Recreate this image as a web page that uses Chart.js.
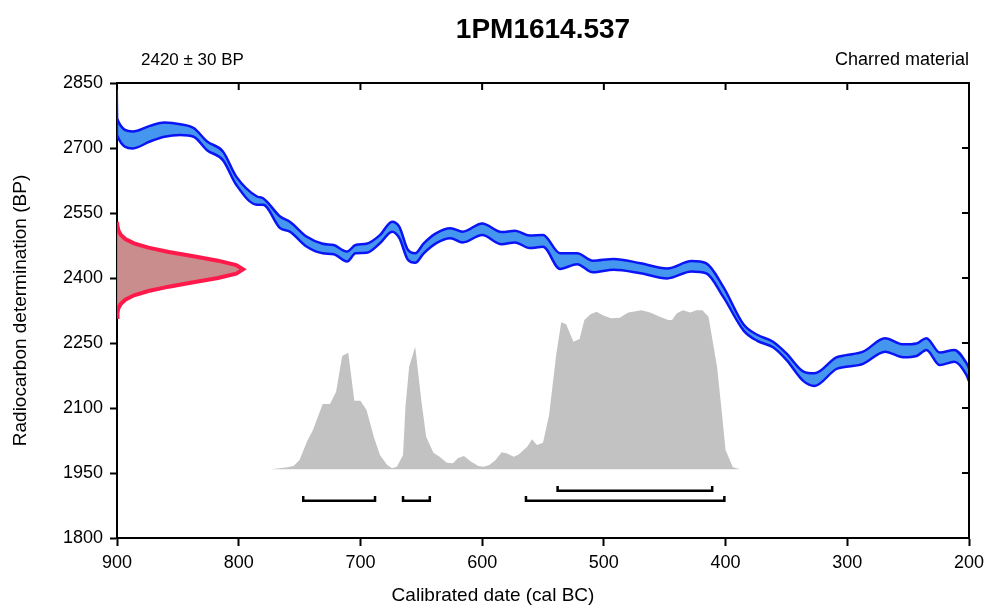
<!DOCTYPE html>
<html>
<head>
<meta charset="utf-8">
<script src="https://cdn.jsdelivr.net/npm/chart.js@4.4.1/dist/chart.umd.min.js"></script>
<style>
  html, body { margin: 0; padding: 0; background: #fff; }
</style>
</head>
<body>
<canvas id="calChart" width="986" height="608"></canvas>
<script>
Chart.defaults.font.family = "'Liberation Sans', Arial, sans-serif";
Chart.defaults.color = '#000';

const chartTitle = '1PM1614.537';
const sampleAge = '2420 ± 30 BP';
const sampleMaterial = 'Charred material';
const xAxisTitle = 'Calibrated date (cal BC)';

// calibration curve (cal BC) with upper / lower edge of the band (BP)
const curveYears = [900.3, 900, 887, 873, 861, 848, 837, 826, 813, 802, 785, 780, 766, 758, 744, 731, 722, 711, 704, 695,
    684, 674, 668, 661, 655, 648, 638, 626, 616, 600, 584, 573, 561, 550, 536, 522, 509, 492, 470, 448,
    428, 416, 402, 385, 374, 361, 350, 336, 327, 309, 301, 287, 269, 254, 243, 235, 224, 212, 202, 200];
const curveUpper = [2880, 2768, 2738, 2751, 2759, 2755, 2746, 2715, 2692, 2634, 2588, 2584, 2542, 2530, 2495, 2479, 2476, 2461, 2476, 2479,
    2499, 2530, 2518, 2465, 2457, 2480, 2503, 2515, 2507, 2526, 2506, 2509, 2498, 2499, 2457, 2457, 2440, 2444, 2434, 2422,
    2439, 2434, 2380, 2292, 2269, 2253, 2226, 2184, 2180, 2217, 2222, 2230, 2261, 2247, 2249, 2261, 2228, 2234, 2203, 2192];
const curveLower = [2860, 2730, 2699, 2715, 2726, 2730, 2726, 2695, 2672, 2615, 2569, 2569, 2515, 2507, 2472, 2457, 2455, 2438, 2457, 2458,
    2480, 2507, 2492, 2442, 2435, 2457, 2480, 2492, 2482, 2499, 2478, 2482, 2469, 2472, 2421, 2432, 2413, 2419, 2411, 2399,
    2415, 2411, 2357, 2278, 2255, 2240, 2211, 2162, 2151, 2190, 2195, 2202, 2230, 2217, 2220, 2234, 2199, 2207, 2176, 2162];

// radiocarbon measurement distribution (BP) with relative density
const measuredBP = [2310, 2320, 2330, 2340, 2350, 2360, 2370, 2380, 2390, 2400, 2410, 2420,
    2430, 2440, 2450, 2460, 2470, 2480, 2490, 2500, 2510, 2520, 2530];
const measuredDensity = [0.001, 0.004, 0.011, 0.029, 0.066, 0.135, 0.249, 0.411, 0.607, 0.801, 0.946, 1,
    0.946, 0.801, 0.607, 0.411, 0.249, 0.135, 0.066, 0.029, 0.011, 0.004, 0.001];

// calibrated probability (cal BC) with relative probability
const calYears = [774, 761, 755, 750, 744, 739, 731, 725, 720, 715, 710, 705, 700, 695, 689, 684, 678, 674, 670, 665,
    663, 660, 655, 650, 646, 640, 635, 629, 624, 620, 615, 609, 603, 599, 594, 589, 584, 580, 574, 570,
    563, 559, 555, 550, 545, 539, 535, 531, 525, 520, 516, 511, 506, 500, 494, 487, 480, 476, 469, 462,
    454, 447, 444, 440, 435, 429, 424, 419, 414, 411, 407, 403, 400, 394, 388];
const calProb = [0, 0.011, 0.021, 0.058, 0.174, 0.247, 0.411, 0.411, 0.488, 0.713, 0.733, 0.431, 0.431, 0.373, 0.205, 0.09, 0.027, 0.006, 0.016, 0.09,
    0.394, 0.645, 0.771, 0.436, 0.205, 0.104, 0.079, 0.042, 0.038, 0.069, 0.084, 0.048, 0.021, 0.016, 0.027, 0.058, 0.107, 0.101, 0.079, 0.094,
    0.142, 0.189, 0.153, 0.167, 0.342, 0.73, 0.925, 0.912, 0.803, 0.819, 0.939, 0.975, 0.991, 0.966, 0.95, 0.953, 0.987, 0.991, 1, 0.987,
    0.96, 0.939, 0.939, 0.981, 1, 0.987, 1, 1, 0.96, 0.824, 0.645, 0.352, 0.121, 0.013, 0];

// highest probability ranges (cal BC)
const range68 = [[538, 411]];
const range95 = [[747, 688], [665, 643], [564, 401]];

function rangeBars(ranges, level) {
    const pts = [];
    ranges.forEach(function(r) {
        pts.push({ x: r[0], y: level + 11 }, { x: r[0], y: level }, { x: r[1], y: level }, { x: r[1], y: level + 11 });
        pts.push({ x: r[1], y: null });
    });
    return pts;
}

const upperPoints = curveYears.map(function(yr, i) { return { x: yr, y: curveUpper[i] }; });
const lowerPoints = curveYears.map(function(yr, i) { return { x: yr, y: curveLower[i] }; });
const measuredPoints = measuredBP.map(function(bp, i) { return { x: measuredDensity[i], y: bp }; });
const calPoints = calYears.map(function(yr, i) { return { x: yr, y: calProb[i] }; });

const frameTicks = {
    id: 'frameTicks',
    afterDraw: function(chart) {
        const ctx = chart.ctx;
        const area = chart.chartArea;
        const xs = chart.scales.x;
        const ys = chart.scales.y;
        ctx.save();
        ctx.strokeStyle = '#000';
        ctx.lineWidth = 2;
        ctx.beginPath();
        ctx.moveTo(area.left, area.top);
        ctx.lineTo(area.right, area.top);
        ctx.lineTo(area.right, area.bottom);
        xs.ticks.forEach(function(t) {
            const px = xs.getPixelForValue(t.value);
            ctx.moveTo(px, area.top);
            ctx.lineTo(px, area.top + 7);
        });
        ys.ticks.forEach(function(t) {
            const py = ys.getPixelForValue(t.value);
            ctx.moveTo(area.right, py);
            ctx.lineTo(area.right - 7, py);
        });
        ctx.stroke();

        ctx.fillStyle = '#000';
        ctx.textBaseline = 'middle';
        ctx.font = "bold 28px 'Liberation Sans', Arial, sans-serif";
        ctx.textAlign = 'center';
        ctx.fillText(chartTitle, (area.left + area.right) / 2, 30);
        ctx.font = "19px 'Liberation Sans', Arial, sans-serif";
        ctx.fillText(xAxisTitle, chart.width / 2, 596);
        ctx.font = "17px 'Liberation Sans', Arial, sans-serif";
        ctx.textAlign = 'left';
        ctx.fillText(sampleAge, area.left + 24, 60);
        ctx.font = "18px 'Liberation Sans', Arial, sans-serif";
        ctx.textAlign = 'right';
        ctx.fillText(sampleMaterial, area.right, 60);
        ctx.restore();
    }
};

new Chart(document.getElementById('calChart'), {
    type: 'scatter',
    data: {
        datasets: [
            {
                data: upperPoints,
                showLine: true,
                borderColor: '#0a14f5',
                borderWidth: 2.5,
                pointRadius: 0,
                cubicInterpolationMode: 'monotone',
                fill: false
            },
            {
                data: lowerPoints,
                showLine: true,
                borderColor: '#0a14f5',
                borderWidth: 2.5,
                backgroundColor: '#4596ee',
                pointRadius: 0,
                cubicInterpolationMode: 'monotone',
                fill: '-1'
            },
            {
                data: measuredPoints,
                xAxisID: 'x2',
                showLine: true,
                borderColor: '#ff1a4b',
                borderWidth: 4,
                backgroundColor: '#c98d8d',
                pointRadius: 0,
                fill: 'shape'
            },
            {
                data: rangeBars(range95, 1886).concat(rangeBars(range68, 1909)),
                showLine: true,
                spanGaps: false,
                borderColor: '#000',
                borderWidth: 2.5,
                pointRadius: 0,
                fill: false
            },
            {
                data: calPoints,
                yAxisID: 'y2',
                showLine: true,
                borderWidth: 0,
                borderColor: 'rgba(0,0,0,0)',
                backgroundColor: '#c2c2c2',
                pointRadius: 0,
                fill: 'origin'
            }
        ]
    },
    options: {
        responsive: false,
        animation: false,
        layout: { padding: { top: 83, right: 17, left: 0, bottom: 0 } },
        plugins: {
            legend: { display: false },
            tooltip: { enabled: false }
        },
        scales: {
            x: {
                type: 'linear',
                position: 'bottom',
                min: 200,
                max: 900,
                reverse: true,
                afterFit: function(scale) {
                    scale.height = 70;
                    scale.paddingLeft = 0;
                    scale.paddingRight = 0;
                },
                ticks: { stepSize: 100, padding: 6, font: { size: 18 }, maxRotation: 0 },
                grid: { drawOnChartArea: false, drawTicks: true, tickLength: 8, tickWidth: 2, tickColor: '#000' },
                border: { display: true, color: '#000', width: 2 }
            },
            y: {
                type: 'linear',
                position: 'left',
                min: 1800,
                max: 2850,
                afterFit: function(scale) { scale.width = 117; },
                ticks: {
                    stepSize: 150,
                    padding: 7,
                    font: { size: 18 },
                    callback: function(value) { return String(value); }
                },
                grid: { drawOnChartArea: false, drawTicks: true, tickLength: 7, tickWidth: 2, tickColor: '#000' },
                border: { display: true, color: '#000', width: 2 },
                title: { display: true, text: 'Radiocarbon determination (BP)', font: { size: 19 }, padding: { top: 9, bottom: 0 } }
            },
            x2: { type: 'linear', display: false, min: 0, max: 6.76 },
            y2: { type: 'linear', display: false, min: -0.432, max: 2.43 }
        }
    },
    plugins: [frameTicks]
});
</script>
</body>
</html>
